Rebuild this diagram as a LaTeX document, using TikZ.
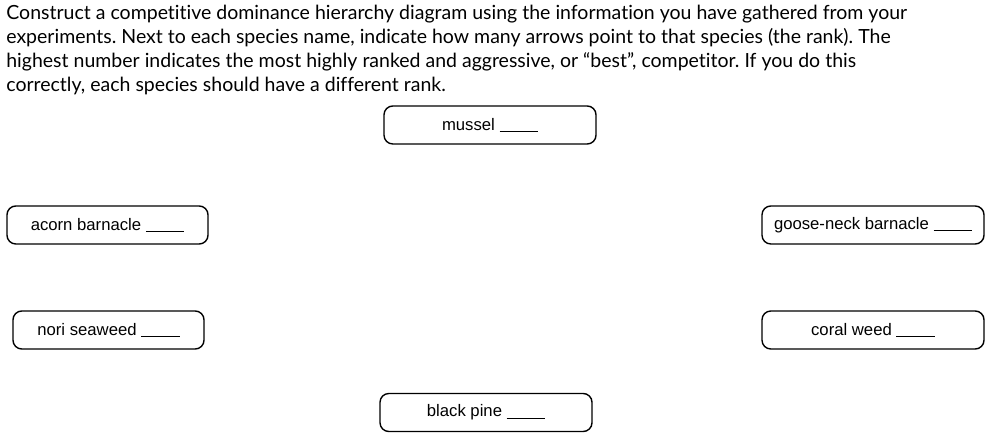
\documentclass[tikz,border=0pt]{standalone}
\usepackage{fontspec}
\setmainfont{Lato}[Ligatures=NoCommon]
\newfontfamily\boxfont{Liberation Sans}
\usetikzlibrary{positioning}
\frenchspacing

\begin{document}
\begin{tikzpicture}[x=0.02cm, y=-0.02cm,
 spbox/.style = {%
      rectangle, rounded corners=5pt, draw, line width=0.8pt,
      minimum width=#1*0.02cm, minimum height=0.76cm,
      font=\boxfont\fontsize{9.5}{11}\selectfont, inner sep=0pt}
                    ]
\useasboundingbox (0,0) rectangle (989,438);
\node(intro) [anchor=north west, align=left, inner sep=0pt,
      font=\fontsize{11.1}{13.6}\selectfont] at (6,5)
  {Construct a competitive dominance hierarchy diagram using the information you have gathered from your\\
   experiments. Next to each species name, indicate how many arrows point to that species (the rank). The\\
   highest number indicates the most highly ranked and aggressive, or ``best'', competitor. If you do this\\
   correctly, each species should have a different rank.};
%
\node(mussel) [spbox=212] at (490,125) {mussel \rule[-0.2ex]{2.3em}{0.5pt}};
\node(acorn)  [spbox=201] at (107.5,225) {acorn barnacle \rule[-0.2ex]{2.3em}{0.5pt}};
\node(goose)  [spbox=222] at (873,225) {goose-neck barnacle \rule[-0.2ex]{2.3em}{0.5pt}};
\node(nori)   [spbox=191] at (108.5,330) {nori seaweed \rule[-0.2ex]{2.3em}{0.5pt}};
\node(coral)  [spbox=222] at (873,330) {coral weed \rule[-0.2ex]{2.3em}{0.5pt}};
\node(pine)   [spbox=212] at (486,412.5) {black pine \rule[-0.2ex]{2.3em}{0.5pt}};
\end{tikzpicture}
\end{document}
